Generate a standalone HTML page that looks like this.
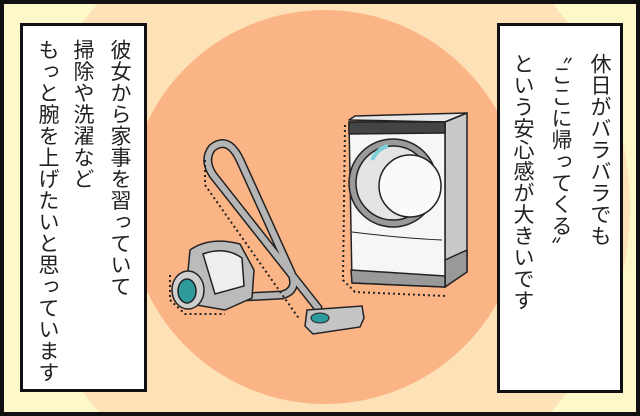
<!DOCTYPE html>
<html><head><meta charset="utf-8"><style>
*{margin:0;padding:0;box-sizing:border-box}
html,body{width:640px;height:416px;overflow:hidden}
body{background:#000;position:relative}
#p{position:absolute;left:0;top:0;width:640px;height:416px;display:block}
.box{position:absolute;background:#fff;border:3px solid #111;}
.col{position:absolute;writing-mode:vertical-rl;font-family:"Liberation Sans","Noto Sans CJK JP",sans-serif;font-size:21px;line-height:21px;color:#222;white-space:nowrap;letter-spacing:0.5px}
</style></head><body>
<svg id="p" width="640" height="416" viewBox="0 0 640 416">
<defs><clipPath id="c"><rect x="4" y="4" width="632" height="408"/></clipPath></defs>
<rect x="0" y="0" width="640" height="416" fill="#111"/>
<g clip-path="url(#c)">
<rect x="4" y="4" width="632" height="408" fill="#fdf8c9"/>
<circle cx="325" cy="207" r="305" fill="#fde2b7"/>
<circle cx="325" cy="207" r="197" fill="#fbb486"/>
<g stroke="#222" stroke-width="1.5" stroke-linejoin="round">
<path d="M349 120 L355 116 L467 113 L445 122 Z" fill="#e8e8e8"/>
<path d="M445 122 L467 113 L467 270 L445 287 Z" fill="#c9c9c9"/>
<path d="M445 260 L467 250 L467 272 L445 287 Z" fill="#999"/>
<path d="M349 122 L445 122 L445 287 L352 283 Z" fill="#f6f6f6"/>
<path d="M349 122 L445 122 L445 133 L349 134 Z" fill="#444"/>
<path d="M351 270 L445 276 L445 287 L352 283 Z" fill="#9a9a9a"/>
<circle cx="393" cy="183" r="44" fill="#9a9a9a"/>
<circle cx="393" cy="183" r="37" fill="#e4e4e4"/>
<circle cx="410" cy="186" r="31" fill="#fafafa"/>
<path d="M352 232 Q400 238 442 240" fill="none" stroke-width="1"/>
</g>
<path d="M372 160 Q378 148 388 146" stroke="#7ed0d8" stroke-width="4" fill="none"/>
<path d="M345 125 L343 280 L355 292 L445 296" stroke="#222" stroke-width="2" stroke-dasharray="2 3" fill="none"/>
<path d="M243 297 L282 295 Q300 290 290 270 L240 160 Q228 135 212 148 Q203 160 213 175 L318 308" fill="none" stroke="#222" stroke-width="9" stroke-linecap="round"/>
<path d="M243 297 L282 295 Q300 290 290 270 L240 160 Q228 135 212 148 Q203 160 213 175 L318 308" fill="none" stroke="#b5b5b5" stroke-width="6" stroke-linecap="round"/>
<path d="M205 160 L205 185 L300 320" stroke="#222" stroke-width="2" stroke-dasharray="2 3" fill="none"/>
<path d="M307 310 L362 306 L364 318 L360 327 L313 334 L305 326 Z" fill="#c4c4c4" stroke="#222" stroke-width="1.5"/>
<ellipse cx="320" cy="318" rx="9" ry="5" fill="#2e9a9a" stroke="#222" stroke-width="1"/>
<g stroke="#222" stroke-width="1.5">
<path d="M190 250 Q210 236 240 244 L254 270 L252 298 L225 310 L185 303 Z" fill="#bbb"/>
<path d="M203 254 Q225 246 242 258 L244 286 L215 294 Z" fill="#eee"/>
<ellipse cx="188" cy="290" rx="16" ry="19" fill="#cfcfcf"/>
<ellipse cx="187" cy="291" rx="9" ry="12" fill="#2e9a9a"/>
</g>
<path d="M170 275 L170 300 L185 314 L225 314" stroke="#222" stroke-width="2" stroke-dasharray="2 3" fill="none"/>
</g>
</svg>
<div class="box" style="left:20px;top:23px;width:127px;height:369px"></div>
<div class="box" style="left:497px;top:23px;width:126px;height:370px"></div>
<div class="col" style="left:109px;top:39px">彼女から家事を習っていて</div>
<div class="col" style="left:72px;top:39px">掃除や洗濯など</div>
<div class="col" style="left:37px;top:39px">もっと腕を上げたいと思っています</div>
<div class="col" style="left:589px;top:53px">休日がバラバラでも</div>
<div class="col" style="left:550px;top:43px">〝ここに帰ってくる〟</div>
<div class="col" style="left:512px;top:53px">という安心感が大きいです</div>
</body></html>
